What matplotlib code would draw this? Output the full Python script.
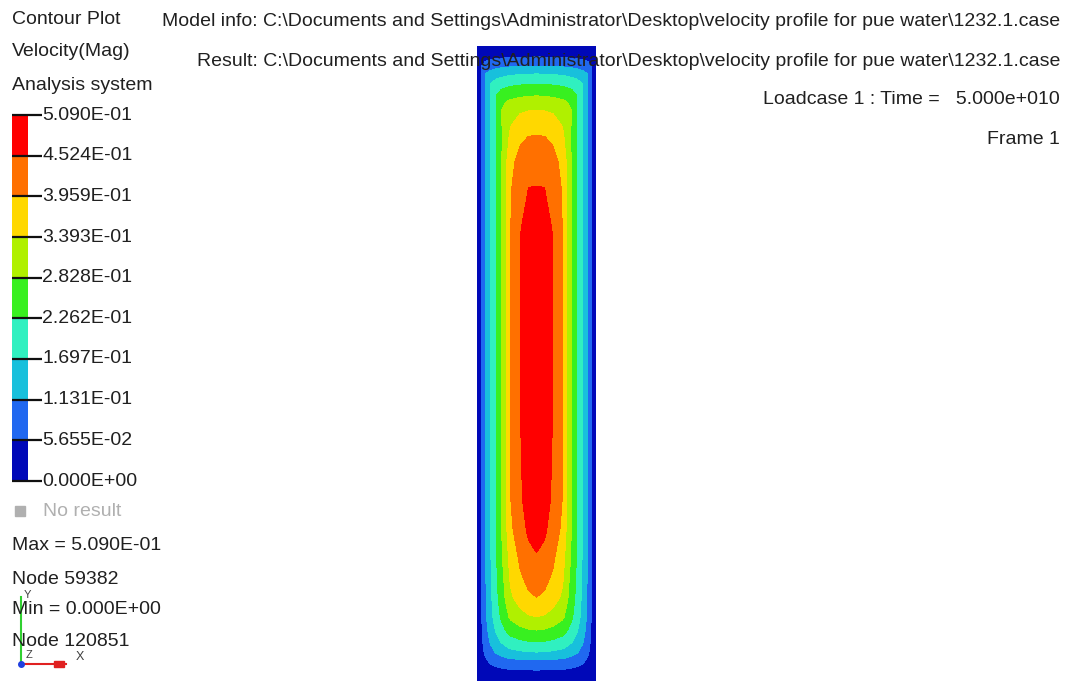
import numpy as np
import matplotlib
matplotlib.use('Agg')
from matplotlib import pyplot as plt

# fonts: narrow sans like the HyperView screen font
FONT = ['Liberation Sans Narrow', 'Liberation Sans', 'DejaVu Sans']
plt.rcParams['font.family'] = FONT

# legend levels (velocity magnitude)
LEVELS = [0.0, 0.05655, 0.1131, 0.1697, 0.2262, 0.2828, 0.3393, 0.3959, 0.4524, 0.509]
BAND_COLORS = ['#0008b8', '#2068f0', '#18c0dc', '#30f0c0', '#38f020',
               '#b0f000', '#ffd800', '#ff7000', '#ff0000']

# nodes across half the channel (distance from centre line, px)
X_HALF = [0, 8, 16.5, 26, 30, 35, 40.5, 46, 51, 55, 60]
# stations along the channel (px from top of picture)
Y_ROWS = [46, 52, 57, 66, 74, 84, 96, 110, 137, 162, 187, 230, 300, 400,
          500, 530, 553, 575, 597, 617, 630, 642, 652, 660, 670, 681]
# nodal velocity, one row per station, centre line -> wall
V_HALF = [
    [0, 0, 0, 0, 0, 0, 0, 0, 0, 0, 0],
    [0.030, 0.030, 0.030, 0.029, 0.028, 0.027, 0.025, 0.022, 0.018, 0.012, 0],
    [0.057, 0.056, 0.055, 0.053, 0.052, 0.050, 0.047, 0.043, 0.037, 0.027, 0],
    [0.113, 0.112, 0.111, 0.107, 0.105, 0.102, 0.096, 0.088, 0.077, 0.057, 0],
    [0.170, 0.169, 0.167, 0.162, 0.158, 0.153, 0.145, 0.133, 0.113, 0.0566, 0],
    [0.226, 0.225, 0.221, 0.215, 0.210, 0.203, 0.192, 0.170, 0.113, 0.0566, 0],
    [0.283, 0.282, 0.277, 0.269, 0.263, 0.255, 0.226, 0.170, 0.113, 0.0566, 0],
    [0.339, 0.337, 0.332, 0.322, 0.315, 0.283, 0.226, 0.170, 0.113, 0.0566, 0],
    [0.400, 0.397, 0.385, 0.350, 0.320, 0.275, 0.222, 0.167, 0.112, 0.0566, 0],
    [0.430, 0.427, 0.415, 0.380, 0.336, 0.280, 0.224, 0.169, 0.113, 0.0566, 0],
    [0.453, 0.452, 0.440, 0.388, 0.338, 0.283, 0.226, 0.170, 0.113, 0.0566, 0],
    [0.475, 0.470, 0.450, 0.395, 0.339, 0.283, 0.226, 0.170, 0.113, 0.0566, 0],
    [0.490, 0.480, 0.452, 0.396, 0.339, 0.283, 0.226, 0.170, 0.113, 0.0566, 0],
    [0.500, 0.485, 0.452, 0.396, 0.339, 0.283, 0.226, 0.170, 0.113, 0.0566, 0],
    [0.490, 0.475, 0.443, 0.394, 0.337, 0.281, 0.225, 0.169, 0.113, 0.0566, 0],
    [0.475, 0.462, 0.425, 0.385, 0.334, 0.280, 0.224, 0.168, 0.112, 0.0566, 0],
    [0.452, 0.440, 0.410, 0.360, 0.325, 0.275, 0.221, 0.166, 0.111, 0.0556, 0],
    [0.425, 0.415, 0.390, 0.350, 0.310, 0.265, 0.215, 0.162, 0.109, 0.055, 0],
    [0.396, 0.388, 0.365, 0.330, 0.295, 0.255, 0.208, 0.158, 0.106, 0.054, 0],
    [0.339, 0.333, 0.318, 0.292, 0.268, 0.235, 0.195, 0.150, 0.102, 0.052, 0],
    [0.283, 0.279, 0.268, 0.250, 0.232, 0.207, 0.175, 0.137, 0.095, 0.049, 0],
    [0.226, 0.223, 0.215, 0.202, 0.190, 0.172, 0.148, 0.118, 0.083, 0.044, 0],
    [0.170, 0.168, 0.163, 0.155, 0.147, 0.135, 0.118, 0.096, 0.068, 0.037, 0],
    [0.113, 0.112, 0.109, 0.104, 0.100, 0.093, 0.083, 0.069, 0.050, 0.028, 0],
    [0.057, 0.056, 0.055, 0.053, 0.051, 0.048, 0.043, 0.036, 0.027, 0.016, 0],
    [0, 0, 0, 0, 0, 0, 0, 0, 0, 0, 0],
]

HEADER = [
    'Model info: C:\\Documents and Settings\\Administrator\\Desktop\\velocity profile for pue water\\1232.1.case',
    'Result: C:\\Documents and Settings\\Administrator\\Desktop\\velocity profile for pue water\\1232.1.case',
    'Loadcase 1 : Time =   5.000e+010',
    'Frame 1',
]
LEGEND_TITLE = ['Contour Plot', 'Velocity(Mag)', 'Analysis system']
STATS = ['Max = 5.090E-01', 'Node 59382', 'Min = 0.000E+00', 'Node 120851']

W, H = 1067, 681
FS = 14
fig = plt.figure(figsize=(W / 100, H / 100), dpi=100)
fig.patch.set_facecolor('white')

# mirror the half section to get the full channel
xh = np.array(X_HALF)
vh = np.array(V_HALF)
X = np.concatenate([-xh[::-1], xh[1:]])
Z = np.hstack([vh[:, ::-1], vh[:, 1:]])
Y = np.array(Y_ROWS)

ax = fig.add_axes([476.5 / W, 0, 120 / W, (H - 46) / H])
ax.contourf(X, Y, Z, levels=LEVELS, colors=BAND_COLORS)
ax.set_xlim(-60, 60)
ax.set_ylim(681, 46)
ax.set_facecolor(BAND_COLORS[0])
ax.axis('off')

# colour bar of the legend
cb = fig.add_axes([12 / W, (H - 481) / H, 16 / W, 366 / H])
lv = np.array(LEVELS)
cb.bar(0.5, np.diff(lv), bottom=lv[:-1], width=1.0, color=BAND_COLORS)
cb.hlines(lv, 0, 1.9, color='#101010', lw=1.6, clip_on=False)
cb.set_xlim(0, 1)
cb.set_ylim(0, LEVELS[-1])
cb.axis('off')
for v in LEVELS:
    cb.text(1.9, v, '{:.3E}'.format(v), fontsize=FS, color='#202020',
            va='center', ha='left')

# overlay in pixel coordinates for the screen text
ov = fig.add_axes([0, 0, 1, 1], facecolor='none')
ov.set_xlim(0, W)
ov.set_ylim(H, 0)
ov.axis('off')

txt = dict(fontsize=FS, color='#202020', va='center')
for s, y in zip(HEADER, [22, 61, 100, 139]):
    ov.text(1060, y, s, ha='right', **txt)
for s, y in zip(LEGEND_TITLE, [20, 51, 86]):
    ov.text(12, y, s, ha='left', **txt)
for s, y in zip(STATS, [546, 580, 610, 641]):
    ov.text(12, y, s, ha='left', **txt)

ov.add_patch(plt.Rectangle((15, 506), 10, 10, color='#b0b0b0'))
ov.text(43, 511, 'No result', ha='left', va='center', fontsize=FS, color='#b0b0b0')

# axis triad
ov.plot([21, 21], [597, 664], color='#30d030', lw=1.5)
ov.plot([21, 66], [664, 664], color='#e02020', lw=1.5)
ov.add_patch(plt.Rectangle((54, 661), 10, 6, color='#e02020'))
ov.plot([21], [664], 'o', color='#2040e0', ms=4)
ov.text(27, 595, 'Y', fontsize=8, color='#404040', ha='center', va='center')
ov.text(29, 655, 'Z', fontsize=8, color='#404040', ha='center', va='center')
ov.text(80, 657, 'X', fontsize=9, color='#404040', ha='center', va='center')

plt.savefig('out.png', dpi=100)
